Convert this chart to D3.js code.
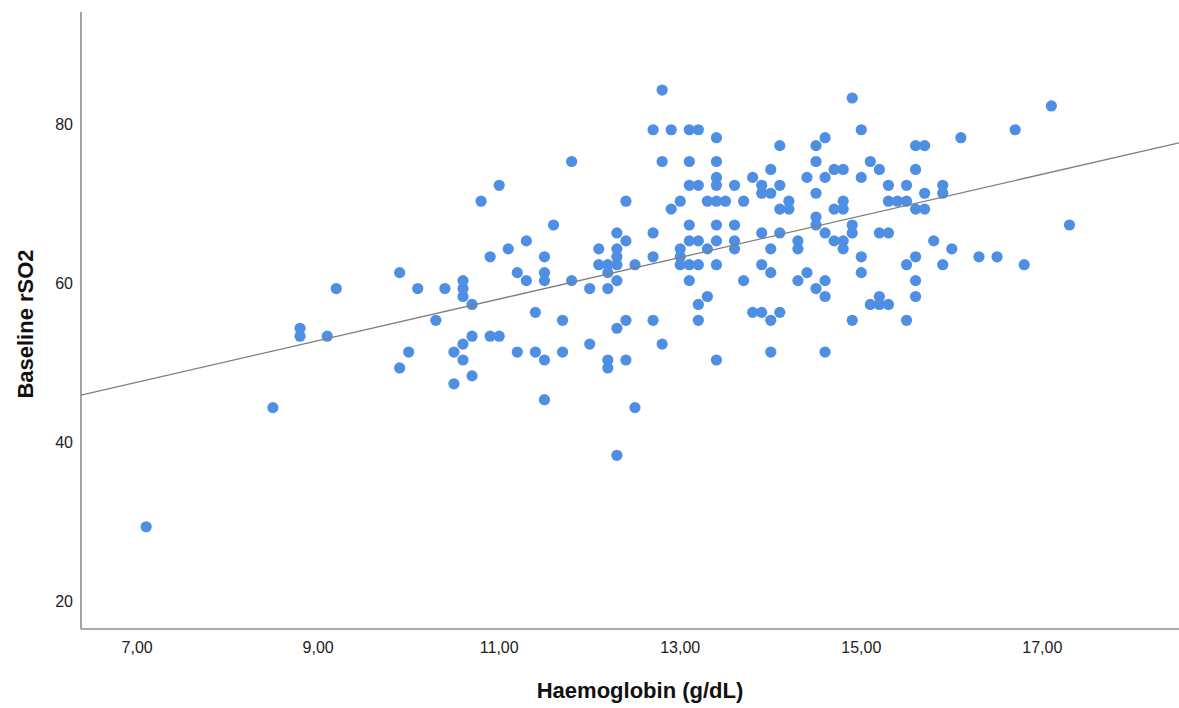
<!DOCTYPE html>
<html>
<head>
<meta charset="utf-8">
<script src="https://cdn.jsdelivr.net/npm/d3@7"></script>
<style>
  body { margin: 0; background: #fff; }
  svg { display: block; font-family: "Liberation Sans", Arial, sans-serif; }
  .tick-label { font-size: 16px; fill: #222; }
  .axis-title { font-size: 22px; font-weight: bold; fill: #111; }
</style>
</head>
<body>
<svg width="1179" height="708"></svg>
<script>
// Haemoglobin (g/dL) for each patient
var haemoglobin = [
  7.1, 8.5, 11.0, 10.8, 11.1, 10.9, 9.9, 9.2, 10.1, 10.4,
  10.6, 10.6, 10.6, 10.7, 10.3, 8.8, 8.8, 9.1, 10.7, 10.9,
  11.0, 10.6, 10.5, 10.0, 10.6, 9.9, 10.7, 10.5, 11.8, 12.8,
  12.4, 12.9, 11.6, 12.3, 12.7, 11.3, 12.4, 12.1, 12.3, 11.5,
  12.3, 12.7, 12.1, 12.2, 12.3, 12.5, 11.2, 11.5, 12.2, 11.3,
  11.5, 11.8, 12.3, 12.0, 12.2, 11.4, 11.7, 12.4, 12.7, 12.3,
  12.0, 12.8, 11.2, 11.4, 11.7, 11.5, 12.2, 12.4, 12.2, 11.5,
  12.5, 12.3, 12.8, 12.9, 13.1, 13.2, 13.4, 14.1, 14.5, 13.1,
  13.4, 14.5, 14.0, 13.8, 13.4, 14.4, 13.1, 13.2, 13.4, 13.6,
  13.9, 14.1, 14.5, 13.9, 14.0, 13.0, 13.3, 13.4, 13.5, 13.7,
  14.2, 14.1, 14.2, 14.5, 13.1, 13.4, 13.6, 13.9, 14.1, 14.5,
  13.0, 13.0, 13.1, 13.2, 13.4, 13.6, 13.6, 13.3, 14.0, 14.3,
  14.3, 13.0, 13.1, 13.2, 13.4, 13.9, 14.0, 14.4, 13.1, 13.7,
  14.3, 14.5, 13.3, 13.2, 13.2, 13.8, 13.9, 14.1, 14.0, 13.4,
  14.0, 14.9, 15.0, 14.6, 15.6, 15.7, 15.1, 14.7, 14.8, 15.2,
  15.6, 14.6, 15.0, 15.3, 15.5, 15.9, 15.9, 15.7, 15.3, 15.4,
  15.5, 14.8, 14.7, 14.8, 15.6, 15.7, 14.9, 14.9, 14.6, 15.2,
  15.3, 14.7, 14.8, 14.8, 15.8, 16.0, 15.0, 15.6, 15.5, 15.9,
  15.0, 14.6, 15.6, 14.6, 15.6, 15.2, 15.1, 15.2, 15.3, 14.9,
  15.5, 14.6, 16.1, 16.7, 17.1, 17.3, 16.3, 16.5, 16.8, 12.7
];

// Baseline rSO2 for the same patients
var rso2 = [
  29, 44, 72, 70, 64, 63, 61, 59, 59, 59,
  60, 59, 58, 57, 55, 54, 53, 53, 53, 53,
  53, 52, 51, 51, 50, 49, 48, 47, 75, 75,
  70, 69, 67, 66, 66, 65, 65, 64, 64, 63,
  63, 63, 62, 62, 62, 62, 61, 61, 61, 60,
  60, 60, 60, 59, 59, 56, 55, 55, 55, 54,
  52, 52, 51, 51, 51, 50, 50, 50, 49, 45,
  44, 38, 84, 79, 79, 79, 78, 77, 77, 75,
  75, 75, 74, 73, 73, 73, 72, 72, 72, 72,
  72, 72, 71, 71, 71, 70, 70, 70, 70, 70,
  70, 69, 69, 68, 67, 67, 67, 66, 66, 67,
  64, 63, 65, 65, 65, 65, 64, 64, 64, 65,
  64, 62, 62, 62, 62, 62, 61, 61, 60, 60,
  60, 59, 58, 57, 55, 56, 56, 56, 55, 50,
  51, 83, 79, 78, 77, 77, 75, 74, 74, 74,
  74, 73, 73, 72, 72, 72, 71, 71, 70, 70,
  70, 70, 69, 69, 69, 69, 67, 66, 66, 66,
  66, 65, 65, 64, 65, 64, 63, 63, 62, 62,
  61, 60, 60, 58, 58, 58, 57, 57, 57, 55,
  55, 51, 78, 79, 82, 67, 63, 63, 62, 79
];

// fit line: intercept, slope
var fitCoef = [28.86, 2.62];

var xTicks = [7, 9, 11, 13, 15, 17];
var yTicks = [20, 40, 60, 80];

var svg = d3.select('svg');

var x = d3.scaleLinear().domain([6.38, 18.51]).range([81, 1179]);
var y = d3.scaleLinear().domain([16.12, 93.83]).range([629, 12]);

var commaFmt = d3.formatLocale({decimal: ',', thousands: '.', grouping: [3], currency: ['', '']}).format('.2f');

var points = haemoglobin.map(function(h, i) {
    return {hb: h, rso2: rso2[i]};
});

// axis lines
svg.append('line')
    .attr('x1', x.range()[0]).attr('x2', x.range()[0])
    .attr('y1', y.range()[1]).attr('y2', y.range()[0])
    .attr('stroke', '#8c8c8c').attr('stroke-width', 1.6);
svg.append('line')
    .attr('x1', x.range()[0]).attr('x2', x.range()[1])
    .attr('y1', y.range()[0]).attr('y2', y.range()[0])
    .attr('stroke', '#8c8c8c').attr('stroke-width', 1.6);

// tick labels
svg.selectAll('.xlab')
    .data(xTicks)
    .enter()
    .append('text')
    .attr('class', 'tick-label')
    .attr('x', function(d) { return x(d); })
    .attr('y', 647)
    .attr('dy', '0.35em')
    .attr('text-anchor', 'middle')
    .text(function(d) { return commaFmt(d); });

svg.selectAll('.ylab')
    .data(yTicks)
    .enter()
    .append('text')
    .attr('class', 'tick-label')
    .attr('x', 73)
    .attr('y', function(d) { return y(d) + 3; })
    .attr('dy', '0.35em')
    .attr('text-anchor', 'end')
    .text(function(d) { return d; });

// dots
svg.append('g')
    .selectAll('circle')
    .data(points)
    .enter()
    .append('circle')
    .attr('cx', function(d) { return x(d.hb); })
    .attr('cy', function(d) { return y(d.rso2); })
    .attr('r', 5.6)
    .attr('fill', '#4e8fe4');

// fit line across the plot
var xd = x.domain();
svg.append('line')
    .attr('x1', x(xd[0])).attr('y1', y(fitCoef[0] + fitCoef[1] * xd[0]))
    .attr('x2', x(xd[1])).attr('y2', y(fitCoef[0] + fitCoef[1] * xd[1]))
    .attr('stroke', '#7f7f7f').attr('stroke-width', 1.3);

// axis titles
svg.append('text')
    .attr('class', 'axis-title')
    .attr('x', 640)
    .attr('y', 690)
    .attr('dy', '0.35em')
    .attr('text-anchor', 'middle')
    .text('Haemoglobin (g/dL)');

svg.append('text')
    .attr('class', 'axis-title')
    .attr('transform', 'translate(25,324) rotate(-90)')
    .attr('dy', '0.35em')
    .attr('text-anchor', 'middle')
    .text('Baseline rSO2');
</script>
</body>
</html>
